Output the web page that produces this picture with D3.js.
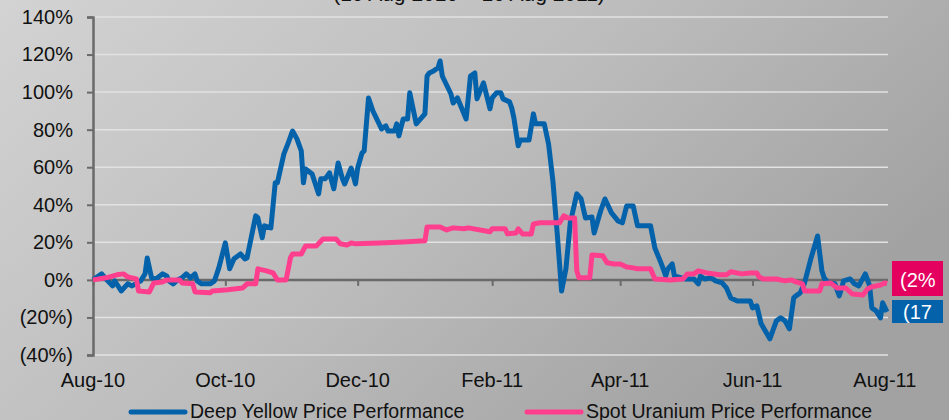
<!DOCTYPE html>
<html>
<head>
<meta charset="utf-8">
<script src="https://cdnjs.cloudflare.com/ajax/libs/d3/7.8.5/d3.min.js"></script>
<style>
  body { margin: 0; overflow: hidden; }
  svg { display: block; font-family: "Liberation Sans", Arial, sans-serif; }
</style>
</head>
<body>
<script>
// Deep Yellow vs spot uranium, % change since Aug-10

// Deep Yellow (blue) - dates and % values, month by month
const blueDates = [
  "2010-08-01","2010-08-05","2010-08-07","2010-08-10","2010-08-11","2010-08-14","2010-08-17","2010-08-19","2010-08-23","2010-08-25","2010-08-26","2010-08-28","2010-08-30",
  "2010-09-02","2010-09-04","2010-09-05","2010-09-07","2010-09-09","2010-09-11","2010-09-13","2010-09-15","2010-09-17","2010-09-18","2010-09-20","2010-09-24","2010-09-26","2010-09-28",
  "2010-10-01","2010-10-03","2010-10-05","2010-10-08","2010-10-10","2010-10-11","2010-10-15","2010-10-16","2010-10-18","2010-10-19","2010-10-22","2010-10-24","2010-10-25","2010-10-28","2010-10-30",
  "2010-11-01","2010-11-03","2010-11-05","2010-11-06","2010-11-07","2010-11-10","2010-11-13","2010-11-14","2010-11-16","2010-11-18","2010-11-20","2010-11-22","2010-11-24","2010-11-25","2010-11-28","2010-11-30",
  "2010-12-01","2010-12-03","2010-12-04","2010-12-06","2010-12-08","2010-12-12","2010-12-14","2010-12-15","2010-12-18","2010-12-19","2010-12-20","2010-12-22","2010-12-24","2010-12-25","2010-12-28","2010-12-30",
  "2011-01-01","2011-01-02","2011-01-03","2011-01-05","2011-01-07","2011-01-08","2011-01-09","2011-01-13","2011-01-14","2011-01-16","2011-01-20","2011-01-22","2011-01-24","2011-01-25","2011-01-28","2011-01-31",
  "2011-02-01","2011-02-03","2011-02-05","2011-02-06","2011-02-09","2011-02-10","2011-02-11","2011-02-13","2011-02-14","2011-02-18","2011-02-20","2011-02-21","2011-02-25","2011-02-27",
  "2011-03-01","2011-03-03","2011-03-05","2011-03-07","2011-03-09","2011-03-12","2011-03-14","2011-03-16","2011-03-19","2011-03-20","2011-03-23","2011-03-25","2011-03-28","2011-03-31",
  "2011-04-02","2011-04-04","2011-04-07","2011-04-09","2011-04-15","2011-04-17","2011-04-20","2011-04-22","2011-04-23","2011-04-25","2011-04-26",
  "2011-05-01","2011-05-05","2011-05-07","2011-05-08","2011-05-10","2011-05-13","2011-05-15","2011-05-18","2011-05-20","2011-05-22","2011-05-25","2011-05-31",
  "2011-06-01","2011-06-03","2011-06-05","2011-06-09","2011-06-12","2011-06-14","2011-06-16","2011-06-18","2011-06-20","2011-06-21","2011-06-23","2011-06-25","2011-06-28",
  "2011-07-01","2011-07-03","2011-07-04","2011-07-06","2011-07-09","2011-07-11","2011-07-13","2011-07-16","2011-07-18","2011-07-20","2011-07-23","2011-07-25","2011-07-26","2011-07-28","2011-07-30","2011-07-31",
  "2011-08-02"
];
const blueValues = [
  0, 3.2, 0.5, -3.2, -0.5, -5.9, -2.1, -3.2, -0.5, 3.2, 11.7, 1.1, 0.5,
  3.2, 2.1, -0.5, -2.1, 0, 1.1, 3.2, 1.1, 3.2, -0.5, -2.1, -2.1, -0.5, 6.4,
  19.7, 5.9, 11.2, 13.8, 11.2, 11.7, 34.1, 33, 22.4, 28.8, 27.7, 51.7, 51.7, 67.1, 73,
  79.3, 75.1, 68.7, 51.7, 59.1, 56.4, 45.8, 53.8, 53.8, 57, 48.5, 62.3, 53.8, 51.1, 59.6, 51.1,
  59.6, 67.6, 68.7, 96.9, 90, 80.4, 82, 79.3, 79.3, 83.1, 76.7, 85.7, 85.7, 99.6, 83.1, 85.7,
  88.4, 108.6, 110.2, 111.3, 112.9, 116.6, 108.6, 99, 94.2, 96.9, 85.7, 108.6, 110.2, 96.4, 104.9, 91.1,
  96.9, 99.6, 99.6, 96.4, 94.8, 91.6, 86.3, 71.4, 74.5, 74.5, 88.4, 83.1, 83.1, 72.4,
  52.7, 24.5, -5.9, 5.9, 30.4, 45.8, 43.1, 33, 33.5, 25, 36.7, 43.1, 35.7, 31.4,
  30.4, 39.4, 39.4, 28.8, 28.8, 17, 8.5, 2.1, 5.9, 8.5, 2.1,
  0.5, 0.5, -2.1, 2.1, 0.5, 1.1, -0.5, -1.6, -4.3, -9.6, -11.2, -11.2,
  -14.9, -13.8, -23.4, -31.4, -21.8, -20.2, -21.8, -26.1, -9.6, -8.5, -6.9, -1.6, 11.7,
  23.4, 4.8, 1.1, -1.6, -2.1, -8.5, -0.5, 0.5, -2.1, -3.2, 3.2, -3.2, -14.9, -16.5, -20.2, -12.2,
  -17
];

// Spot uranium (pink)
const pinkDates = [
  "2010-08-01","2010-08-07","2010-08-12","2010-08-15","2010-08-17","2010-08-19","2010-08-21","2010-08-22","2010-08-27","2010-08-29",
  "2010-09-02","2010-09-04","2010-09-10","2010-09-11","2010-09-16","2010-09-17","2010-09-24","2010-09-25",
  "2010-10-02","2010-10-09","2010-10-11","2010-10-15","2010-10-16","2010-10-20","2010-10-23","2010-10-25","2010-10-29","2010-10-31",
  "2010-11-01","2010-11-05","2010-11-07","2010-11-12","2010-11-15","2010-11-21","2010-11-23","2010-11-26","2010-11-28","2010-11-30",
  "2010-12-11","2010-12-22",
  "2011-01-01","2011-01-02","2011-01-08","2011-01-11","2011-01-14","2011-01-19","2011-01-21","2011-01-31",
  "2011-02-01","2011-02-07","2011-02-08","2011-02-12","2011-02-13","2011-02-15","2011-02-19","2011-02-20","2011-02-23",
  "2011-03-04","2011-03-06","2011-03-08","2011-03-11","2011-03-12","2011-03-13","2011-03-18","2011-03-19","2011-03-24","2011-03-26","2011-03-29",
  "2011-04-01","2011-04-04","2011-04-07","2011-04-09","2011-04-15","2011-04-17","2011-04-24","2011-04-30",
  "2011-05-02","2011-05-05","2011-05-07","2011-05-11","2011-05-17","2011-05-20","2011-05-22","2011-05-27","2011-05-31",
  "2011-06-03","2011-06-04","2011-06-06","2011-06-12","2011-06-16","2011-06-19","2011-06-21","2011-06-24","2011-06-25",
  "2011-07-02","2011-07-03","2011-07-07","2011-07-10","2011-07-14","2011-07-17","2011-07-22","2011-07-24","2011-07-26","2011-07-30",
  "2011-08-01","2011-08-02"
];
const pinkValues = [
  0, 1.1, 2.7, 3.2, 1.6, 1.1, 0.5, -5.9, -6.4, -1.6,
  -1.1, 0, 0, -1.6, -2.1, -6.4, -6.9, -5.9,
  -5.3, -4.3, -2.1, -2.1, 5.9, 4.8, 3.7, 0, 0, 11.7,
  13.8, 13.8, 18.1, 18.1, 21.8, 21.8, 19.2, 18.6, 19.7, 19.2,
  19.7, 20.2,
  20.8, 28.2, 28.2, 26.6, 27.7, 27.2, 27.7, 25.6,
  27.2, 27.2, 24.5, 25, 27.2, 24.5, 24.5, 29.8, 30.4,
  30.4, 34.1, 33, 33, 4.8, 1.1, 1.1, 13.3, 12.8, 9.1, 8.5,
  8.5, 6.9, 6.4, 5.9, 5.9, 0.5, 0, 0.5,
  3.2, 3.2, 4.8, 3.7, 2.7, 2.7, 4.3, 3.2, 3.7,
  3.7, 1.6, 0.5, 0.5, -0.5, 0, -1.1, -2.1, -5.9,
  -5.9, -2.1, -1.6, -4.3, -4.3, -7.5, -8, -4.8, -3.7, -2.7,
  -1.6, -2
];

// axis ticks and labels
const yTicks = [-40, -20, 0, 20, 40, 60, 80, 100, 120, 140];
const xTickDates = ["2010-08-01","2010-10-01","2010-12-01","2011-02-01","2011-04-01","2011-06-01","2011-08-01"];
const seriesNames = ["Deep Yellow Price Performance", "Spot Uranium Price Performance"];
const endLabels = ["(2%", "(17"];
const titleText = "(10 Aug 2010 – 10 Aug 2011)";

const [w, h] = [949, 420];
const blue = "#0462ab", pink = "#ff3f8e";

const parse = d3.timeParse("%Y-%m-%d");
const blueData = blueDates.map((d, i) => ({ date: parse(d), v: blueValues[i] }));
const pinkData = pinkDates.map((d, i) => ({ date: parse(d), v: pinkValues[i] }));

const svg = d3.select("body").append("svg")
    .attr("width", w)
    .attr("height", h);

// background gradient
const grad = svg.append("defs").append("linearGradient")
    .attr("id", "bg")
    .attr("x1", 0).attr("y1", 0).attr("x2", 1).attr("y2", 0.5);
grad.append("stop").attr("offset", 0).attr("stop-color", "#d3d3d3");
grad.append("stop").attr("offset", 0.55).attr("stop-color", "#bcbcbc");
grad.append("stop").attr("offset", 1).attr("stop-color", "#a2a2a2");
svg.append("rect").attr("width", w).attr("height", h).attr("fill", "url(#bg)");

// scales
const xScale = d3.scaleTime()
    .domain([parse("2010-08-01"), parse("2011-08-02")])
    .range([93, 887]);
const yScale = d3.scaleLinear()
    .domain([-40, 140])
    .range([355, 17]);

// title, mostly above the top edge
svg.append("text")
    .attr("x", 469).attr("y", 1)
    .attr("text-anchor", "middle")
    .attr("font-size", 21)
    .attr("fill", "#111")
    .text(titleText);

// gridlines
svg.append("g")
    .selectAll("line")
    .data(yTicks)
    .join("line")
    .attr("x1", 93).attr("x2", 888)
    .attr("y1", d => yScale(d)).attr("y2", d => yScale(d))
    .attr("stroke", "#e2e2e2")
    .attr("stroke-width", 1.5);

// y axis
const yAxis = d3.axisLeft(yScale)
    .tickValues(yTicks)
    .tickSize(6)
    .tickPadding(14)
    .tickFormat(d => d < 0 ? "(" + (-d) + "%)" : d + "%");
const gy = svg.append("g")
    .attr("transform", "translate(93,0)")
    .call(yAxis);
gy.select(".domain").attr("stroke", "#6a6a6a").attr("stroke-width", 2.5);
gy.selectAll(".tick line").attr("stroke", "#6a6a6a").attr("stroke-width", 2);
gy.selectAll("text").attr("font-size", 20).attr("fill", "#111")
    .attr("font-family", "Liberation Sans, Arial, sans-serif");

// x axis on the 0% line, labels at the bottom
const xAxis = d3.axisBottom(xScale)
    .tickValues(xTickDates.map(parse))
    .tickSize(6)
    .tickFormat("");
const gx = svg.append("g")
    .attr("transform", "translate(0," + yScale(0) + ")")
    .call(xAxis);
gx.select(".domain").attr("stroke", "#6a6a6a").attr("stroke-width", 2.5)
    .attr("d", "M93,0H888");
gx.selectAll(".tick line").attr("stroke", "#6a6a6a").attr("stroke-width", 2);

svg.append("g")
    .selectAll("text")
    .data(xTickDates.map(parse))
    .join("text")
    .attr("x", d => xScale(d))
    .attr("y", 387)
    .attr("text-anchor", "middle")
    .attr("font-size", 20)
    .attr("fill", "#111")
    .text(d3.timeFormat("%b-%y"));

// lines
const line = d3.line()
    .x(d => xScale(d.date))
    .y(d => yScale(d.v));

svg.append("path")
    .datum(blueData)
    .attr("d", line)
    .attr("fill", "none")
    .attr("stroke", blue)
    .attr("stroke-width", 5)
    .attr("stroke-linejoin", "round");

svg.append("path")
    .datum(pinkData)
    .attr("d", line)
    .attr("fill", "none")
    .attr("stroke", pink)
    .attr("stroke-width", 5)
    .attr("stroke-linejoin", "round");

// end value boxes (cut off by the right edge)
svg.append("rect").attr("x", 892).attr("y", 261).attr("width", 51).attr("height", 35).attr("fill", "#e3005f");
svg.append("text").attr("x", 900).attr("y", 287).attr("font-size", 20).attr("fill", "#fff").text(endLabels[0]);
svg.append("rect").attr("x", 892).attr("y", 300).attr("width", 51).attr("height", 23).attr("fill", "#0462ab");
svg.append("text").attr("x", 903).attr("y", 319).attr("font-size", 20).attr("fill", "#fff").text(endLabels[1]);

// legend
const legend = svg.append("g");
[[131, blue], [527, pink]].forEach(([lx, c], i) => {
    legend.append("line")
        .attr("x1", lx).attr("x2", lx + 54)
        .attr("y1", 412).attr("y2", 412)
        .attr("stroke", c).attr("stroke-width", 5)
        .attr("stroke-linecap", "round");
    legend.append("text")
        .attr("x", lx + 59).attr("y", 418)
        .attr("font-size", 19.5)
        .attr("fill", "#111")
        .text(seriesNames[i]);
});
</script>
</body>
</html>
